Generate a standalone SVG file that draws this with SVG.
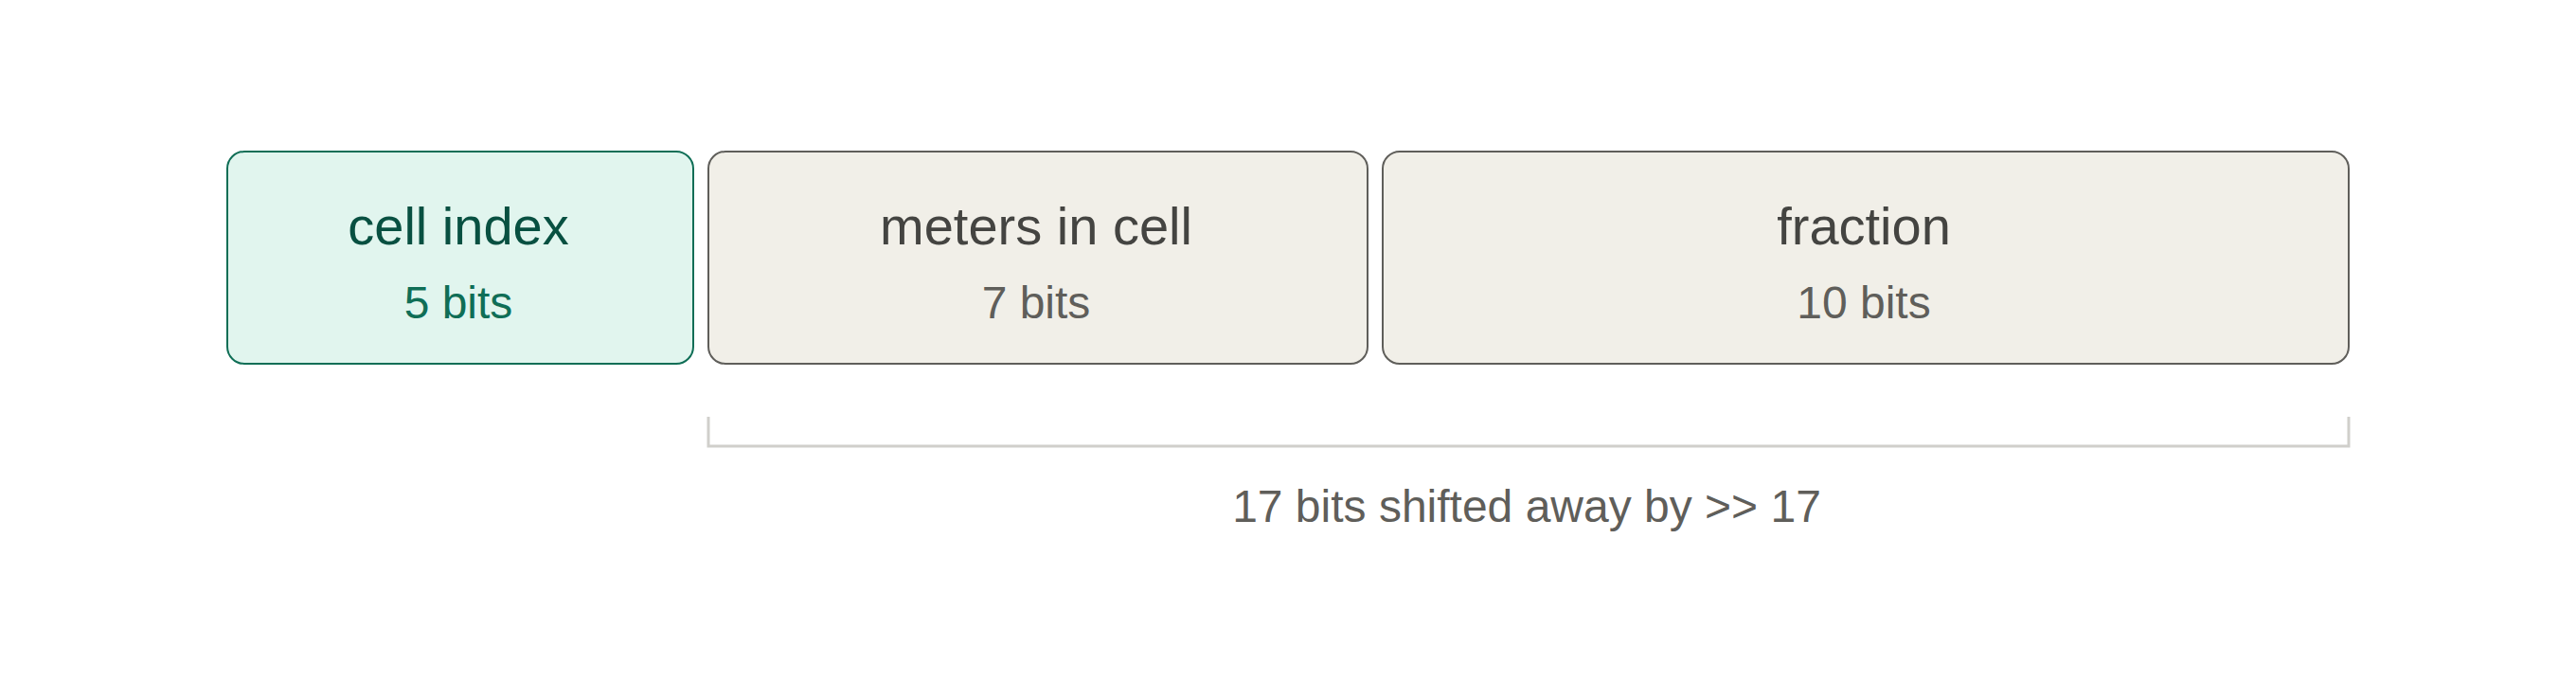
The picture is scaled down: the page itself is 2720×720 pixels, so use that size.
<svg xmlns="http://www.w3.org/2000/svg" width="2720" height="720" viewBox="0 0 2720 720">
<style>
text{font-family:"Liberation Sans",Arial,sans-serif;text-anchor:middle}
.box{stroke-width:2}
.green{fill:#e1f5ee;stroke:#0f6e56}
.grey{fill:#f1efe8;stroke:#5f5e5a}
.t{font-size:56px}
.s{font-size:48px}
.gt{fill:#085041}
.gs{fill:#0f6e56}
.nt{fill:#444441}
.ns{fill:#5f5e5a}
.br{fill:none;stroke:#d0cfcb;stroke-width:3}
</style>
<rect width="2720" height="720" fill="#ffffff"/>
<g id="cell-index">
<rect class="box green" x="240" y="160" width="492" height="224" rx="18"/>
<text class="t gt" x="484" y="258">cell index</text>
<text class="s gs" x="484" y="336">5 bits</text>
</g>
<g id="meters-in-cell">
<rect class="box grey" x="748" y="160" width="696" height="224" rx="18"/>
<text class="t nt" x="1094" y="258">meters in cell</text>
<text class="s ns" x="1094" y="336">7 bits</text>
</g>
<g id="fraction">
<rect class="box grey" x="1460" y="160" width="1020" height="224" rx="18"/>
<text class="t nt" x="1968" y="258">fraction</text>
<text class="s ns" x="1968" y="336">10 bits</text>
</g>
<g id="connectors">
<path class="br" d="M748 440 V471 H2480 V440"/>
</g>
<g id="shift-label">
<text class="s ns" x="1612" y="551">17 bits shifted away by &gt;&gt; 17</text>
</g>
</svg>
